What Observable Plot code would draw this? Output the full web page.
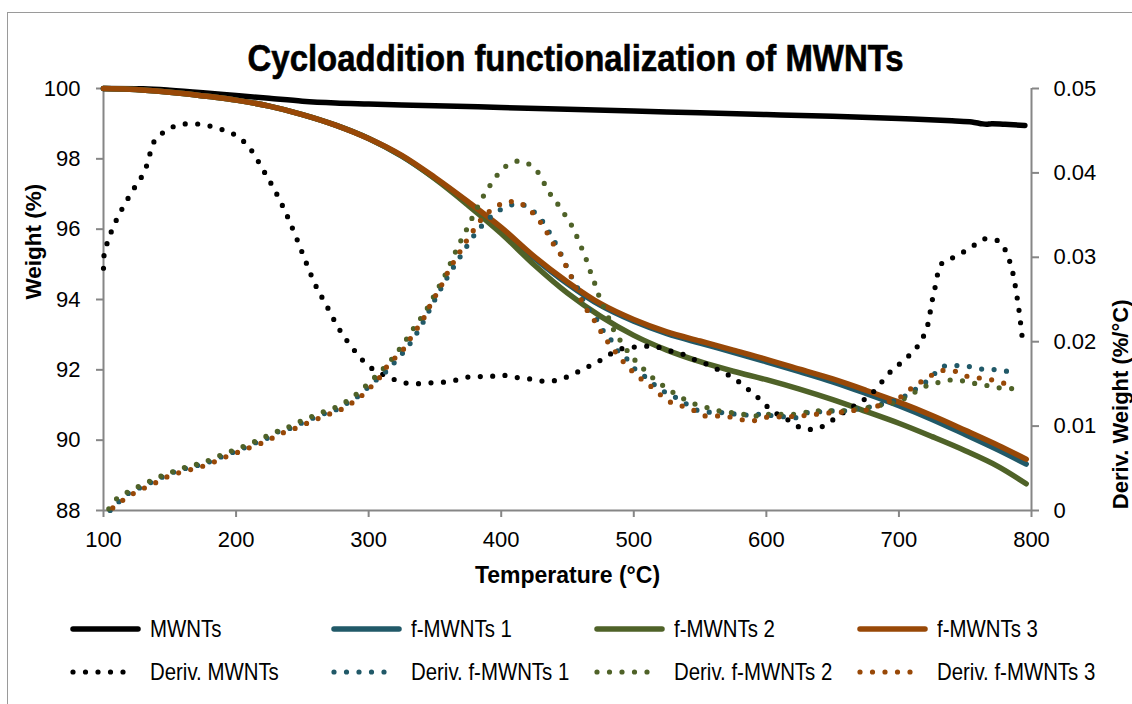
<!DOCTYPE html>
<html>
<head>
<meta charset="utf-8">
<script src="https://cdn.jsdelivr.net/npm/d3@7"></script>
<script src="https://cdn.jsdelivr.net/npm/@observablehq/plot@0.6"></script>
<style>
  html, body { margin: 0; padding: 0; background: #fff; }
  body { width: 1132px; height: 704px; overflow: hidden; position: relative; font-family: "Liberation Sans", Arial, sans-serif; }
  #frame { position: absolute; left: 7px; top: 12px; width: 1160px; height: 740px; border: 1.5px solid #9a9a9a; box-sizing: border-box; }
  #title { position: absolute; left: 0; top: 40px; width: 1151px; text-align: center; font-size: 37px; line-height: 37px; font-weight: bold; color: #000; }
  #title span { display: inline-block; transform: scaleX(0.89); transform-origin: center; white-space: nowrap; -webkit-text-stroke: 0.6px #000; }
  #chart { position: absolute; left: 0; top: 0; }
  .legend-row { position: absolute; left: 0; height: 26px; }
  .item { position: absolute; top: 0; height: 26px; display: flex; align-items: center; }
  .item svg { flex: none; }
  .item span { font-size: 24px; line-height: 26px; color: #000; white-space: nowrap; margin-left: 8px; display: inline-block; transform: scaleX(0.85); transform-origin: left center; }
</style>
</head>
<body>
<div id="frame"></div>
<div id="chart"></div>
<div id="title"><span>Cycloaddition functionalization of MWNTs</span></div>
<div id="legend"></div>
<script>
// Axis ticks
const xTicks = [100, 200, 300, 400, 500, 600, 700, 800];
const weightTicks = [88, 90, 92, 94, 96, 98, 100];
const derivTicks = [0, 0.01, 0.02, 0.03, 0.04, 0.05];

// Series names and colours
const seriesNames = ["MWNTs", "f-MWNTs 1", "f-MWNTs 2", "f-MWNTs 3"];
const seriesColors = ["#000000", "#215968", "#4f6228", "#984807"];

// Weight (%) vs temperature (°C)
const weightMWNTs = [[100,100],[130,99.99],[150,99.95],[175,99.88],[200,99.8],[225,99.72],[250,99.64],[275,99.59],[300,99.56],[325,99.53],[350,99.51],[400,99.46],[450,99.41],[500,99.36],[550,99.31],[600,99.26],[650,99.21],[700,99.15],[740,99.08],[755,99.05],[762,99.0],[766,98.98],[770,99.0],[780,98.98],[795,98.95]];
const weightF1 = [[100,100],[120,99.98],[140,99.93],[160,99.86],[180,99.77],[200,99.67],[225,99.5],[250,99.26],[275,98.96],[300,98.58],[325,98.08],[350,97.45],[375,96.75],[400,96.0],[425,95.18],[450,94.45],[475,93.83],[500,93.38],[525,93.03],[550,92.76],[575,92.5],[600,92.23],[625,91.95],[650,91.66],[675,91.33],[700,90.98],[725,90.59],[750,90.16],[775,89.72],[796,89.32]];
const weightF2 = [[100,100],[120,99.98],[140,99.93],[160,99.86],[180,99.77],[200,99.67],[225,99.5],[250,99.26],[275,98.96],[300,98.58],[325,98.08],[350,97.43],[375,96.68],[400,95.88],[425,94.98],[450,94.18],[475,93.52],[500,92.98],[525,92.56],[550,92.23],[575,91.96],[600,91.72],[625,91.45],[650,91.15],[675,90.82],[700,90.48],[725,90.1],[750,89.7],[775,89.25],[796,88.76]];
const weightF3 = [[100,100],[120,99.98],[140,99.93],[160,99.86],[180,99.77],[200,99.67],[225,99.5],[250,99.26],[275,98.96],[300,98.58],[325,98.1],[350,97.47],[375,96.78],[400,96.05],[425,95.22],[450,94.5],[475,93.88],[500,93.43],[525,93.08],[550,92.82],[575,92.56],[600,92.3],[625,92.02],[650,91.74],[675,91.42],[700,91.08],[725,90.7],[750,90.28],[775,89.85],[796,89.46]];

// Derivative weight (%/°C) vs temperature (°C)
const derivMWNTs = [[100,0.0287],[100.3,0.0301],[102.6,0.0316],[105.8,0.033],[113.9,0.0357],[123.2,0.0382],[132.2,0.0407],[137.5,0.0435],[143.6,0.0446],[151.6,0.0454],[161,0.0458],[170,0.0458],[179,0.0456],[188,0.0452],[197,0.0447],[211,0.0428],[220.6,0.0403],[230,0.0377],[238,0.0351],[245.5,0.0323],[252.3,0.0296],[259.3,0.0269],[268.2,0.0243],[277,0.0217],[287.6,0.0193],[300.1,0.0171],[308.4,0.0163],[316.5,0.0157],[325.3,0.0152],[334,0.015],[344,0.0151],[362,0.0153],[371,0.0157],[381,0.0159],[389.5,0.0158],[399,0.0161],[408,0.0158],[418,0.0157],[427,0.0154],[436,0.0153],[445,0.0156],[454,0.0161],[462,0.0168],[470.5,0.0174],[478,0.0181],[486.4,0.0189],[495,0.0193],[504.5,0.0194],[514,0.0195],[523,0.0191],[532,0.0187],[541,0.0183],[549,0.0176],[558,0.0172],[566.4,0.0164],[574.5,0.0158],[582,0.0149],[589,0.014],[596.4,0.013],[602.7,0.012],[611,0.0112],[619,0.0105],[627.4,0.0097],[636,0.0096],[645,0.0102],[652.5,0.011],[660,0.0118],[668.4,0.0126],[676,0.0134],[682.8,0.0144],[688.5,0.0155],[694.6,0.0166],[701.6,0.0175],[708.6,0.0185],[714.7,0.0196],[719.2,0.0209],[722.2,0.0223],[723.8,0.0237],[725.5,0.0252],[727.5,0.0266],[729.3,0.0281],[733.1,0.0294],[741.4,0.03],[749.4,0.0307],[757.5,0.0315],[765.3,0.0322],[774.1,0.032],[780.1,0.0309],[783.4,0.0296],[786,0.0281],[787.7,0.0267],[789.2,0.0252],[790.5,0.0238],[791.7,0.0223],[792.7,0.0209],[794,0.0194]];
const derivF1 = [[105,0.0],[109.6,0.0007],[115.6,0.0017],[123.9,0.0024],[131.5,0.003],[139.8,0.0036],[148.9,0.0043],[157.9,0.0048],[166.8,0.0052],[175.3,0.0055],[185.1,0.0061],[194.2,0.0067],[203.2,0.0072],[212.1,0.0079],[220.8,0.0083],[229.7,0.0092],[238.5,0.0096],[247.2,0.0102],[256,0.0108],[264.9,0.0114],[273.7,0.0118],[282.5,0.0126],[290.8,0.0134],[298.9,0.0145],[306,0.0155],[314,0.0166],[322,0.018],[330,0.0195],[340,0.022],[350,0.025],[360,0.0278],[370,0.0303],[380,0.0327],[390,0.0345],[400,0.0357],[412,0.0363],[420,0.036],[424,0.0355],[431,0.0343],[438,0.0325],[445,0.0304],[452,0.028],[457.5,0.0264],[461,0.0252],[467,0.0236],[472.6,0.0225],[477,0.0213],[482,0.0204],[487,0.0191],[494,0.0181],[500,0.0169],[506.6,0.0161],[514,0.0151],[521.7,0.0142],[529.2,0.0136],[538,0.0128],[545.5,0.012],[554.4,0.0117],[563.2,0.0116],[572,0.0116],[580.3,0.0112],[588.4,0.0114],[597,0.0114],[605.7,0.0112],[614,0.0111],[622,0.011],[631,0.0116],[640,0.0117],[648.6,0.0118],[657,0.0118],[666.8,0.012],[675.6,0.0122],[684.5,0.0125],[692,0.0128],[700.8,0.0132],[707.1,0.0138],[714.7,0.0146],[720.9,0.0153],[726.8,0.0162],[733.6,0.0171],[740.6,0.0172],[748.1,0.0171],[756.2,0.017],[765,0.0167],[773.3,0.0167],[781.9,0.0165],[790.2,0.0165]];
const derivF2 = [[104,0.0002],[108,0.0011],[114,0.0018],[122,0.0025],[130,0.0031],[138,0.0037],[147,0.0043],[156,0.0048],[165,0.0053],[174,0.0056],[183,0.0062],[192,0.0068],[201,0.0073],[210,0.0079],[219,0.0085],[228,0.0092],[237,0.0097],[246,0.0104],[255,0.011],[264,0.0116],[273,0.0121],[282,0.0128],[290,0.0137],[298,0.0148],[306,0.016],[314,0.0173],[320.3,0.0185],[326,0.0197],[331.1,0.0209],[336.1,0.0221],[341.2,0.0232],[346.2,0.0245],[350.5,0.0258],[355,0.0271],[359.3,0.0284],[363.1,0.0298],[366.9,0.0311],[370.6,0.0323],[375.2,0.0337],[379.4,0.0351],[383.7,0.0364],[388.2,0.0377],[392.8,0.0388],[398.3,0.04],[405.4,0.041],[413.4,0.0414],[422.3,0.0409],[428.5,0.0399],[433,0.0386],[437.8,0.0373],[443.6,0.0361],[448.6,0.0349],[453.7,0.0336],[457.5,0.0323],[461.2,0.0309],[464.5,0.0296],[467.5,0.0282],[470.8,0.0268],[473.8,0.0254],[477.5,0.024],[481.3,0.0227],[485.1,0.0213],[490,0.0201],[495.2,0.0189],[501.5,0.0177],[507.8,0.0167],[514.5,0.0157],[522,0.0148],[529.5,0.014],[538,0.0132],[546.3,0.0126],[555.2,0.0122],[564.5,0.0118],[573.3,0.0116],[582.1,0.0114],[592.2,0.0112],[601,0.0114],[611,0.0114],[619.9,0.0114],[629.2,0.0116],[638.8,0.0118],[647.6,0.0118],[656.4,0.0118],[665.3,0.012],[674,0.0121],[682.8,0.0124],[691.7,0.0126],[700.4,0.013],[709.8,0.0138],[718.1,0.0146],[726.4,0.015],[735.2,0.0154],[744,0.0155],[753.3,0.0151],[762.1,0.015],[771,0.0146],[780.2,0.0145],[789.2,0.0144]];
const derivF3 = [[107,0.0003],[112,0.0009],[118,0.0016],[126,0.0023],[134,0.0029],[142,0.0035],[151,0.0042],[160,0.0046],[169,0.005],[178,0.0054],[187,0.006],[196,0.0066],[205,0.0071],[214,0.0077],[223,0.0082],[232,0.009],[241,0.0095],[250,0.0101],[259,0.0107],[268,0.0113],[277,0.0118],[286,0.0126],[294,0.0135],[302,0.0147],[308,0.0157],[313,0.0169],[320,0.0181],[325.3,0.0189],[330.3,0.0201],[335.4,0.0213],[341.6,0.0228],[346.7,0.0244],[351.7,0.0258],[356.7,0.0272],[360.5,0.0285],[365.6,0.0298],[370.6,0.0311],[375.6,0.0324],[380,0.0334],[385,0.0345],[390,0.0353],[396.5,0.036],[404,0.0366],[411.6,0.0366],[419.7,0.0358],[426,0.0349],[432.3,0.0335],[436.8,0.0323],[441.1,0.0311],[446.1,0.03],[449.9,0.0286],[454.4,0.0272],[457.9,0.0258],[462.2,0.0244],[467,0.0232],[472,0.0221],[476.3,0.0209],[482.6,0.0195],[488.1,0.0184],[493.9,0.0173],[500.2,0.0163],[507.8,0.0153],[514.5,0.0145],[521.7,0.0135],[529.2,0.0127],[538,0.0123],[546.3,0.0118],[554.4,0.0112],[563.2,0.0112],[571.7,0.0111],[580.3,0.0108],[589.1,0.0106],[597.2,0.011],[606,0.0111],[614.8,0.0111],[623.6,0.0112],[632.2,0.0113],[642.5,0.0115],[651.3,0.0116],[660.1,0.0117],[669,0.0119],[677.7,0.0119],[686.5,0.0126],[694.6,0.013],[702.9,0.0136],[710.4,0.0146],[717.2,0.0153],[725.5,0.0161],[733.8,0.0166],[742.4,0.0165],[751.5,0.0159],[760.7,0.0157],[769.6,0.0155],[778.4,0.0151],[787.7,0.015]];

const weightSeries = [weightMWNTs, weightF1, weightF2, weightF3];
const derivSeries = [derivMWNTs, derivF1, derivF2, derivF3];

// The derivative axis (0–0.05 %/°C) shares the plot with the weight axis (88–100 %)
const wMin = 88, wMax = 100, dMax = 0.05;
const derivToWeight = d => wMin + (d / dMax) * (wMax - wMin);
const weightToDeriv = w => (w - wMin) / (wMax - wMin) * dMax;

const axisGray = "#868686";
const solidWidth = 5.5;
const dotWidth = 5.2;
const dotDash = "0 12.5";

const marks = [];
// Weight curves (solid)
weightSeries.forEach((data, i) => {
  marks.push(Plot.line(data, {
    x: d => d[0], y: d => d[1],
    stroke: seriesColors[i], strokeWidth: solidWidth, curve: "catmull-rom"
  }));
});
// Derivative curves (round dots)
derivSeries.forEach((data, i) => {
  marks.push(Plot.line(data, {
    x: d => d[0], y: d => derivToWeight(d[1]),
    stroke: seriesColors[i], strokeWidth: dotWidth, strokeDasharray: dotDash,
    strokeLinecap: "round", curve: "monotone-x"
  }));
});

const chart = Plot.plot({
  width: 1132,
  height: 610,
  marginLeft: 103,
  marginRight: 101,
  marginTop: 88,
  marginBottom: 100,
  style: { fontFamily: "'Liberation Sans', Arial, sans-serif", fontSize: "22px", color: "#000", background: "transparent", overflow: "visible" },
  x: { domain: [100, 800], axis: null },
  y: { domain: [wMin, wMax], axis: null },
  marks: [
    // axis lines
    Plot.ruleX([100], { stroke: axisGray, strokeWidth: 2 }),
    Plot.ruleX([800], { stroke: axisGray, strokeWidth: 2 }),
    Plot.ruleY([wMin], { stroke: axisGray, strokeWidth: 2 }),
    Plot.axisX({ ticks: xTicks, tickSize: 7, tickPadding: 14, tickFormat: d => String(d), stroke: axisGray, strokeWidth: 2, fill: "#000", label: null }),
    Plot.axisY({ anchor: "left", ticks: weightTicks, tickSize: 7, tickPadding: 16, tickFormat: d => String(d), stroke: axisGray, strokeWidth: 2, fill: "#000", label: null }),
    Plot.axisY({ anchor: "right", ticks: derivTicks.map(derivToWeight), tickSize: 7, tickPadding: 15,
      tickFormat: w => String(Math.round(weightToDeriv(w) * 100) / 100), stroke: axisGray, strokeWidth: 2, fill: "#000", label: null }),
    // axis titles
    Plot.text(["Weight (%)"], { text: d => d, frameAnchor: "left", dx: -70, rotate: -90, fontWeight: "bold", fontSize: 22.5, fill: "#000" }),
    Plot.text(["Deriv. Weight (%/°C)"], { text: d => d, frameAnchor: "right", dx: 89, rotate: -90, fontWeight: "bold", fontSize: 22, fill: "#000" }),
    Plot.text(["Temperature (°C)"], { text: d => d, frameAnchor: "bottom", dy: 72, fontWeight: "bold", fontSize: 23, fill: "#000" }),
    ...marks
  ]
});
document.getElementById("chart").appendChild(chart);

// Legend: two rows, weight curves then derivative curves
const legendX = [73, 334, 597, 860];
const legend = document.getElementById("legend");
function addRow(top, labels, dotted) {
  const row = document.createElement("div");
  row.className = "legend-row";
  row.style.top = top + "px";
  labels.forEach((label, i) => {
    const item = document.createElement("div");
    item.className = "item";
    item.style.left = (legendX[i] - 3) + "px";
    const ns = "http://www.w3.org/2000/svg";
    const svg = document.createElementNS(ns, "svg");
    svg.setAttribute("width", 72);
    svg.setAttribute("height", 26);
    const ln = document.createElementNS(ns, "line");
    ln.setAttribute("x1", 3); ln.setAttribute("x2", dotted ? 65.5 : 68);
    ln.setAttribute("y1", 13); ln.setAttribute("y2", 13);
    ln.setAttribute("stroke", seriesColors[i]);
    ln.setAttribute("stroke-linecap", "round");
    ln.setAttribute("stroke-width", dotted ? dotWidth : solidWidth);
    if (dotted) ln.setAttribute("stroke-dasharray", dotDash);
    svg.appendChild(ln);
    const span = document.createElement("span");
    span.textContent = label;
    item.appendChild(svg);
    item.appendChild(span);
    row.appendChild(item);
  });
  legend.appendChild(row);
}
addRow(616, seriesNames, false);
addRow(659, seriesNames.map(n => "Deriv. " + n), true);
</script>
</body>
</html>
